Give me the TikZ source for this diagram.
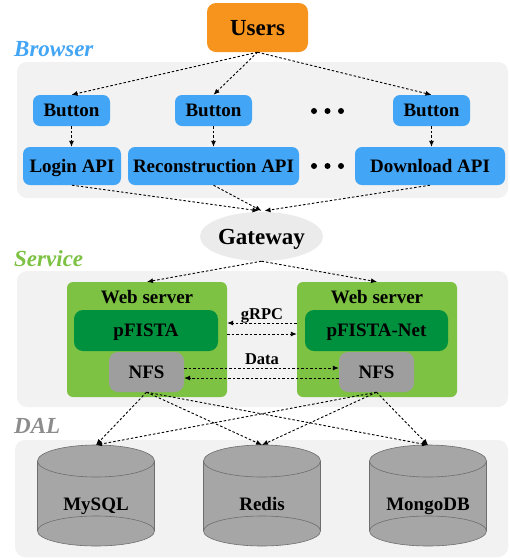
\documentclass[tikz,border=0pt]{standalone}
\usepackage{fontspec}
\setmainfont{Liberation Serif}
\usetikzlibrary{arrows.meta,shapes.geometric}
\definecolor{orangeU}{HTML}{F7941D}
\definecolor{blueB}{HTML}{42A5F5}
\definecolor{greenL}{HTML}{7DC243}
\definecolor{greenD}{HTML}{00913F}
\definecolor{grayN}{HTML}{9E9E9E}
\definecolor{panelgray}{HTML}{F2F2F2}
\definecolor{gwgray}{HTML}{EBEBEB}
\definecolor{cylgray}{HTML}{A6A6A6}
\definecolor{cyledge}{HTML}{6E6E6E}
\definecolor{dalgray}{HTML}{8C8C8C}
\begin{document}
\begin{tikzpicture}[x=1pt,y=-1pt,
  box/.style={rectangle, rounded corners=7pt, inner sep=0pt, text depth=0pt, font=\fontsize{19}{19}\selectfont\bfseries},
  conn/.style={-{Latex[length=6pt,width=5pt]}, dash pattern=on 2.5pt off 2pt, line width=0.9pt},
  sect/.style={anchor=base west, inner sep=0pt, font=\fontsize{23}{23}\selectfont\bfseries\itshape},
  lbl/.style={anchor=base, inner sep=0pt, font=\fontsize{19}{19}\selectfont\bfseries},
  small/.style={anchor=base, inner sep=0pt, font=\fontsize{16.5}{16.5}\selectfont\bfseries},
  panel/.style={fill=panelgray, rounded corners=10pt},
  cylfill/.style={fill=cylgray},
  cylline/.style={draw=cyledge, line width=0.6pt}]
\useasboundingbox[fill=white] (0,0) rectangle (510,558);
% panels
\fill[panel] (17,62) rectangle (508,198);
\fill[panel] (17,271) rectangle (508,407);
\fill[panel] (15,440) rectangle (508,557);
% section labels
\node[sect, text=blueB] (lbrowser) at (14,56) {Browser};
\node[sect, text=greenL] (lservice) at (14,266) {Service};
\node[sect, text=dalgray] (ldal) at (14,433) {DAL};
% users
\node[box, fill=orangeU, minimum width=101pt, minimum height=49pt, rounded corners=9pt, font=\fontsize{23}{23}\selectfont\bfseries] (users) at (257.5,27.5) {Users};
% buttons
\node[box, fill=blueB, minimum width=77pt, minimum height=31pt] (b1) at (71.5,110.5) {Button};
\node[box, fill=blueB, minimum width=77pt, minimum height=31pt] (b2) at (213.5,110.5) {Button};
\node[box, fill=blueB, minimum width=77pt, minimum height=31pt] (b3) at (431.5,110.5) {Button};
% APIs
\node[box, fill=blueB, minimum width=98pt, minimum height=38pt] (login) at (72,166) {Login API};
\node[box, fill=blueB, minimum width=171pt, minimum height=38pt] (recon) at (213.5,166) {Reconstruction API};
\node[box, fill=blueB, minimum width=150pt, minimum height=38pt] (down) at (430,166) {Download API};
% dots
\foreach \yy in {111,166} {
  \fill (314,\yy) circle (3pt);
  \fill (327.5,\yy) circle (3pt);
  \fill (341,\yy) circle (3pt);
}
% gateway
\node[ellipse, fill=gwgray, minimum width=123pt, minimum height=49pt, inner sep=0pt, text depth=0pt, font=\fontsize{23}{23}\selectfont\bfseries] (gw) at (261.5,236.5) {Gateway};
% web servers
\node[box, fill=greenL, minimum width=160pt, minimum height=115pt, rounded corners=6pt] (ws1) at (147,339.5) {};
\node[box, fill=greenL, minimum width=160pt, minimum height=115pt, rounded corners=6pt] (ws2) at (377,339.5) {};
\node[lbl] (ws1t) at (147,303) {Web server};
\node[lbl] (ws2t) at (377,303) {Web server};
\node[box, fill=greenD, minimum width=144pt, minimum height=41pt, rounded corners=9pt] (pf) at (146,330.5) {pFISTA};
\node[box, fill=greenD, minimum width=143pt, minimum height=41pt, rounded corners=9pt] (pfn) at (376.5,330.5) {pFISTA-Net};
\node[box, fill=grayN, minimum width=75pt, minimum height=40pt, rounded corners=9pt] (nfs1) at (146.5,372) {NFS};
\node[box, fill=grayN, minimum width=75pt, minimum height=40pt, rounded corners=9pt] (nfs2) at (376.5,372) {NFS};
\node[small] (grpc) at (262,319) {gRPC};
\node[small] (data) at (262,364) {Data};
% cylinders
\foreach \cx/\nm/\txt in {96/mysql/MySQL, 262/redis/Redis, 428/mongo/MongoDB} {
  \fill[cylfill] (\cx-58.5,461) rectangle (\cx+58.5,531);
  \fill[cylfill] (\cx,531) ellipse [x radius=58.5, y radius=15];
  \draw[cylline] (\cx,531) ellipse [x radius=58.5, y radius=15];
  \draw[cylline] (\cx-58.5,461) -- (\cx-58.5,531);
  \draw[cylline] (\cx+58.5,461) -- (\cx+58.5,531);
  \filldraw[cylfill, cylline] (\cx,461) ellipse [x radius=58.5, y radius=16];
  \coordinate (\nm) at (\cx,445);
  \node[lbl] (\nm t) at (\cx,510) {\txt};
}
% connectors
\draw[conn] (users.south) -- (b1.north);
\draw[conn] (users.south) -- (b2.north);
\draw[conn] (users.south) -- (b3.north);
\draw[conn] (b1.south) -- (b1.south |- login.north);
\draw[conn] (b2.south) -- (b2.south |- recon.north);
\draw[conn] (b3.south) -- (b3.south |- down.north);
\draw[conn] (login.south) -- ([xshift=-3pt,yshift=1pt]gw.north);
\draw[conn] (recon.south) -- ([yshift=1pt]gw.north);
\draw[conn] (down.south) -- ([xshift=3pt,yshift=1pt]gw.north);
\draw[conn] (gw.south) -- (ws1.north);
\draw[conn] (gw.south) -- (ws2.north);
\draw[conn] ([yshift=7.5pt]ws2.west |- pf.center) -- ([yshift=7.5pt]ws1.east |- pf.center);
\draw[conn] ([yshift=-3.5pt]ws1.east |- pf.center) -- ([yshift=-3.5pt]ws2.west |- pf.center);
\draw[conn] ([yshift=4pt]nfs1.east) -- ([yshift=4pt]nfs2.west);
\draw[conn] ([yshift=-6pt]nfs2.west) -- ([yshift=-6pt]nfs1.east);
\foreach \s in {nfs1,nfs2} {
  \draw[conn] (\s.south) -- (mysql);
  \draw[conn] (\s.south) -- (redis);
  \draw[conn] (\s.south) -- (mongo);
}
\end{tikzpicture}
\end{document}
